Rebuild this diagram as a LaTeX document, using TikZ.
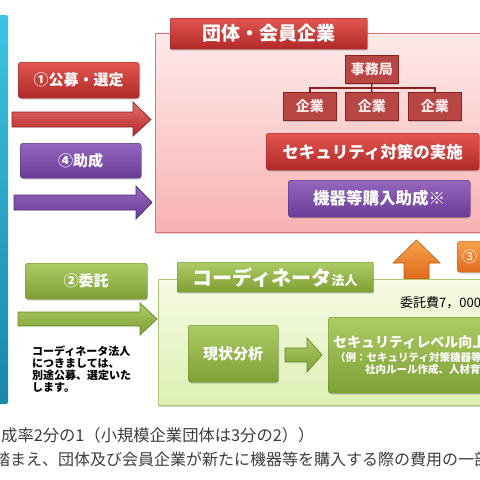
\documentclass[tikz,border=0pt]{standalone}
\usepackage{fontspec}
\setmainfont{Noto Sans CJK JP}
\usetikzlibrary{shadows}
\definecolor{cyanT}{HTML}{3CC4E4}
\definecolor{cyanB}{HTML}{1A86A8}
\definecolor{rtop}{HTML}{E2564F}
\definecolor{rbot}{HTML}{B02828}
\definecolor{rdark}{HTML}{8A2222}
\definecolor{ptop}{HTML}{9466BC}
\definecolor{pbot}{HTML}{6A3C96}
\definecolor{pdark}{HTML}{4E2C72}
\definecolor{gtop}{HTML}{ADCB66}
\definecolor{gbot}{HTML}{7DA033}
\definecolor{gdark}{HTML}{66862A}
\definecolor{pinkT}{HTML}{FFEAEA}
\definecolor{pinkB}{HTML}{F8B2B2}
\definecolor{pinkE}{HTML}{E67272}
\definecolor{lgT}{HTML}{F6FBE4}
\definecolor{lgB}{HTML}{DDEFB4}
\definecolor{lgE}{HTML}{A9C972}
\definecolor{oT}{HTML}{F7A24C}
\definecolor{oB}{HTML}{E06A1C}
\definecolor{oE}{HTML}{C45A14}
\definecolor{orgfill}{HTML}{B84644}
\definecolor{txtgray}{HTML}{3C3C3C}
\tikzset{
  shad/.style={drop shadow={shadow xshift=1pt,shadow yshift=-1.5pt,opacity=0.35}},
  redbox/.style={rounded corners=3pt, draw=rdark, top color=rtop, bottom color=rbot,
    text=white, inner sep=0pt, shad, font=\bfseries\fontsize{15}{15}\selectfont},
  purplebox/.style={rounded corners=3pt, draw=pdark, top color=ptop, bottom color=pbot,
    text=white, inner sep=0pt, shad, font=\bfseries\fontsize{15}{15}\selectfont},
  greenbox/.style={rounded corners=3pt, draw=gdark, top color=gtop, bottom color=gbot,
    text=white, inner sep=0pt, shad, font=\bfseries\fontsize{15}{15}\selectfont},
  orangebox/.style={rounded corners=3pt, draw=oE, top color=oT, bottom color=oB,
    text=white, inner sep=0pt, shad, font=\bfseries\fontsize{15}{15}\selectfont},
  orgbox/.style={draw=rdark, fill=orgfill, text=pinkT, inner sep=0pt, line width=0.8pt,
    shad, font=\bfseries\fontsize{14}{14}\selectfont},
  pinkpanel/.style={draw=pinkE, top color=pinkT, bottom color=pinkB, inner sep=0pt, line width=0.8pt},
  greenpanel/.style={draw=lgE, top color=lgT, bottom color=lgB, inner sep=0pt, line width=0.8pt},
  redarrow/.style={draw=rdark, top color=rtop!85!white, bottom color=rbot, line width=0.7pt},
  purplearrow/.style={draw=pdark, top color=ptop, bottom color=pbot, line width=0.7pt},
  greenarrow/.style={draw=gdark, top color=gtop, bottom color=gbot, line width=0.7pt},
  orangearrow/.style={draw=oE, top color=oT, bottom color=oB, line width=0.6pt},
  orgline/.style={draw=rdark, line width=1.4pt},
}
\begin{document}
\begin{tikzpicture}[x=1pt,y=-1pt]
\useasboundingbox (0,0) rectangle (480,480);
\clip (0,0) rectangle (480,480);
\fill[white] (0,0) rectangle (480,480);

% left bar
\shade[top color=cyanT, bottom color=cyanB, rounded corners=2pt] (-6,15) rectangle (8,404);

% pink panel
\node[pinkpanel, shad, anchor=north west, minimum width=340pt, minimum height=199pt] (dantai) at (155,33) {};
\node[redbox, rounded corners=1pt, anchor=north west, minimum width=197pt, minimum height=31pt,
  font=\bfseries\fontsize{19}{19}\selectfont] (dtitle) at (170,18) {団体・会員企業};

% left red label and arrow
\node[redbox, anchor=north west, minimum width=121pt, minimum height=36pt] (koubo) at (18,62) {①公募・選定};
\path[redarrow] (12,112) -- (133,112) -- (133,102) -- (151,119.5) -- (133,136) -- (133,127) -- (12,127) -- cycle;

\node[purplebox, anchor=north west, minimum width=121pt, minimum height=35pt] (josei) at (20,143) {④助成};
\path[purplearrow] (14,195) -- (136,195) -- (136,186) -- (152,202.5) -- (136,219) -- (136,210) -- (14,210) -- cycle;

% org chart
\node[orgbox, anchor=north west, minimum width=53pt, minimum height=28pt] (jimu) at (345,55) {事務局};
\node[orgbox, anchor=north west, minimum width=53pt, minimum height=28pt] (k1) at (283,92) {企業};
\node[orgbox, anchor=north west, minimum width=53pt, minimum height=28pt] (k2) at (345,92) {企業};
\node[orgbox, anchor=north west, minimum width=53pt, minimum height=28pt] (k3) at (408,92) {企業};
\coordinate (jn) at (371.5,88);
\draw[orgline] (jimu.south) -- (jn);
\draw[orgline] (jn) -| (k1.north);
\draw[orgline] (jn) -| (k3.north);
\draw[orgline] (jn) -- (k2.north);

\node[redbox, anchor=north west, minimum width=213pt, minimum height=37pt,
  font=\bfseries\fontsize{16.5}{16.5}\selectfont] (jisshi) at (266,133) {セキュリティ対策の実施};
\node[purplebox, anchor=north west, minimum width=182pt, minimum height=37pt,
  font=\bfseries\fontsize{16.5}{16.5}\selectfont] (kiki) at (288,180) {機器等購入助成※};

% orange arrow and box
\path[orangearrow] (416.5,240) -- (440,263) -- (429,263) -- (429,279) -- (404,279) -- (404,263) -- (393,263) -- cycle;
\node[orangebox, anchor=north west, minimum width=40pt, minimum height=31pt] (sanbox) at (457,241) {};
\node[anchor=west, text=white, inner sep=0pt, font=\fontsize{15}{15}\selectfont] (san) at (462,256.5) {③};

% green panel
\node[greenpanel, shad, anchor=north west, minimum width=340pt, minimum height=126pt] (coord) at (158,279) {};
\node[greenbox, rounded corners=1pt, anchor=north west, minimum width=196pt, minimum height=30pt,
  font=\bfseries\fontsize{20}{20}\selectfont] (ctitle) at (177,262) {コーディネータ{\fontsize{13}{13}\selectfont 法人}};

\node[greenbox, anchor=north west, minimum width=122pt, minimum height=36pt] (itaku) at (25,263) {②委託};
\path[greenarrow] (18,312) -- (140,312) -- (140,303) -- (157,319) -- (140,335) -- (140,326) -- (18,326) -- cycle;

\node[anchor=north west, align=left, inner sep=0pt, font=\bfseries\fontsize{11}{11.8}\selectfont] (note) at (32,346)
  {コーディネータ法人\\につきましては、\\別途公募、選定いた\\します。};

\node[anchor=west, inner sep=0pt, font=\fontsize{13}{13}\selectfont] (hi) at (400,303) {委託費7，000};

\node[greenbox, anchor=north west, minimum width=90pt, minimum height=57pt] (genjo) at (188,325) {現状分析};
\path[greenarrow] (285,348) -- (307,348) -- (307,338) -- (322,355) -- (307,372) -- (307,362) -- (285,362) -- cycle;
\node[greenbox, anchor=north west, minimum width=170pt, minimum height=76pt] (level) at (328,317) {};
\node[anchor=west, text=white, inner sep=0pt, font=\bfseries\fontsize{14}{14}\selectfont] (l1) at (333,342) {セキュリティレベル向上};
\node[anchor=west, text=white, inner sep=0pt, font=\bfseries\fontsize{10.5}{10.5}\selectfont] (l2) at (335,357) {（例：セキュリティ対策機器等};
\node[anchor=west, text=white, inner sep=0pt, font=\bfseries\fontsize{10.5}{10.5}\selectfont] (l3) at (365,369) {社内ルール作成、人材育};

% bottom text
\node[anchor=west, inner sep=0pt, text=txtgray, font=\fontsize{16.3}{16.3}\selectfont] (b1) at (1,435) {成率2分の1（小規模企業団体は3分の2））};
\node[anchor=west, inner sep=0pt, text=txtgray, font=\fontsize{16}{16}\selectfont] (b2) at (-6,459) {踏まえ、団体及び会員企業が新たに機器等を購入する際の費用の一部};
\end{tikzpicture}
\end{document}
